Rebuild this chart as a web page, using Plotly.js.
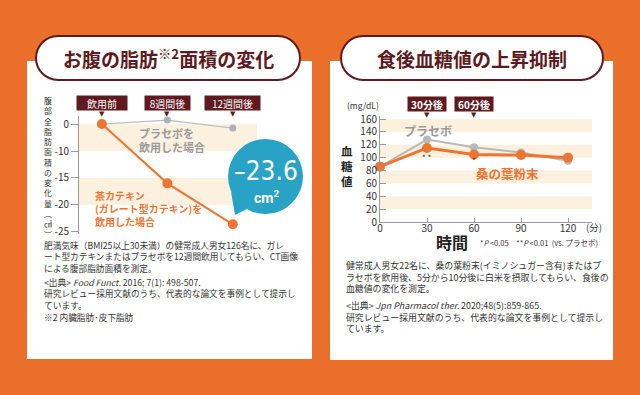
<!DOCTYPE html>
<html>
<head>
<meta charset="utf-8">
<script src="https://cdn.plot.ly/plotly-3.0.1.min.js"></script>
<style>
html,body{margin:0;padding:0;background:#EA6F2B;}
#chart{width:640px;height:395px;}
</style>
</head>
<body>
<div id="chart"></div>
<script>
// ---------- DATA ----------
const leftCategories = ['飲用前', '8週間後', '12週間後'];
const leftPlacebo = [0, 1.5, -1.5];
const leftCatechin = [0, -16.0, -23.6];
const leftTickValues = [0, -10, -15, -20, -25];
const leftTickLabels = ['0', '-10', '-15', '-20', '-25'];
const leftBands = [[0, -10], [-15, -20]];

const rightMinutes = [0, 30, 60, 90, 120];
const rightPlacebo = [86, 128, 116, 108, 95];
const rightMulberry = [86, 115, 105, 104, 100];
const rightTickValues = [0, 20, 40, 60, 80, 100, 120, 140, 160];
const rightBands = [[20, 40], [60, 80], [100, 120], [140, 160]];

// ---------- HELPERS ----------
const W = 640, H = 395;
const X = p => p / W;
const Y = p => 1 - p / H;
// the reference's left axis shows 0 then -10 one step apart, then 5 per step
const leftAxisPos = v => (v >= -10 ? v / 2 : v + 5);

const MAROON = '#5E1A20';
const ORANGE = '#EE7431';
const GREY = '#B7B9BA';
const BAND = '#FCF0DF';
const TEXT = '#333333';
const JP = '"Noto Sans CJK JP", "Noto Sans", sans-serif';

function pill(x0, y0, x1, y1) {
  const r = (y1 - y0) / 2, k = 0.5523 * r, cy = (y0 + y1) / 2;
  const P = (x, y) => X(x).toFixed(5) + ',' + Y(y).toFixed(5);
  return 'M' + P(x0 + r, y0) + ' L' + P(x1 - r, y0) +
    ' C' + P(x1 - r + k, y0) + ' ' + P(x1, cy - k) + ' ' + P(x1, cy) +
    ' C' + P(x1, cy + k) + ' ' + P(x1 - r + k, y1) + ' ' + P(x1 - r, y1) +
    ' L' + P(x0 + r, y1) +
    ' C' + P(x0 + r - k, y1) + ' ' + P(x0, cy + k) + ' ' + P(x0, cy) +
    ' C' + P(x0, cy - k) + ' ' + P(x0 + r - k, y0) + ' ' + P(x0 + r, y0) + ' Z';
}

// ---------- TRACES ----------
const traces = [
  {x: leftCategories, y: leftPlacebo.map(leftAxisPos), xaxis: 'x', yaxis: 'y',
   mode: 'lines+markers', cliponaxis: false,
   line: {color: '#B8C0C4', width: 1.3}, marker: {color: '#A9B4BA', size: 7}},
  {x: leftCategories, y: leftCatechin.map(leftAxisPos), xaxis: 'x', yaxis: 'y',
   mode: 'lines+markers', cliponaxis: false,
   line: {color: ORANGE, width: 2}, marker: {color: ORANGE, size: 10}},
  {x: rightMinutes, y: rightPlacebo, xaxis: 'x2', yaxis: 'y2',
   mode: 'lines+markers', cliponaxis: false,
   line: {color: GREY, width: 2}, marker: {color: GREY, size: 8}},
  {x: rightMinutes, y: rightMulberry, xaxis: 'x2', yaxis: 'y2',
   mode: 'lines+markers', cliponaxis: false,
   line: {color: ORANGE, width: 3}, marker: {color: ORANGE, size: 10}}
];

// ---------- SHAPES ----------
const shapes = [
  {type: 'rect', xref: 'paper', yref: 'paper', x0: X(27), x1: X(312), y0: Y(359), y1: Y(61),
   fillcolor: '#FFFFFF', line: {width: 0}, layer: 'below'},
  {type: 'rect', xref: 'paper', yref: 'paper', x0: X(330), x1: X(613), y0: Y(360), y1: Y(61),
   fillcolor: '#FFFFFF', line: {width: 0}, layer: 'below'},
  {type: 'path', xref: 'paper', yref: 'paper', path: pill(36, 36, 300, 80),
   fillcolor: '#FFFFFF', line: {color: MAROON, width: 2}, layer: 'below'},
  {type: 'path', xref: 'paper', yref: 'paper', path: pill(341, 36, 603, 80),
   fillcolor: '#FFFFFF', line: {color: MAROON, width: 2}, layer: 'below'}
];
leftBands.forEach(b => shapes.push({type: 'rect', xref: 'x domain', yref: 'y', x0: 0, x1: 1,
  y0: leftAxisPos(b[0]), y1: leftAxisPos(b[1]), fillcolor: BAND, line: {width: 0}, layer: 'below'}));
rightBands.forEach(b => shapes.push({type: 'rect', xref: 'x2 domain', yref: 'y2', x0: 0, x1: 1,
  y0: b[0], y1: b[1], fillcolor: BAND, line: {width: 0}, layer: 'below'}));
// teal callout
shapes.push({type: 'path', xref: 'paper', yref: 'paper',
  path: 'M' + X(231) + ',' + Y(192) + ' L' + X(235) + ',' + Y(215) + ' L' + X(253) + ',' + Y(206) + ' Z',
  fillcolor: '#29A3C5', line: {width: 0}});
shapes.push({type: 'circle', xref: 'paper', yref: 'paper', x0: X(228), x1: X(303), y0: Y(214), y1: Y(139),
  fillcolor: '#29A3C5', line: {width: 0}});

// ---------- ANNOTATIONS ----------
const ann = [];
function txt(t, x, y, o) {
  ann.push(Object.assign({text: t, xref: 'paper', yref: 'paper', x: X(x), y: Y(y),
    showarrow: false, xanchor: 'center', yanchor: 'middle',
    font: {family: JP, size: 9, color: TEXT}}, o || {}));
}
// titles
txt('<b>お腹の脂肪<sup>※2</sup>面積の変化</b>', 168, 58, {font: {family: JP, size: 19, color: MAROON}});
txt('<b>食後血糖値の上昇抑制</b>', 472, 58, {font: {family: JP, size: 19, color: MAROON}});

// left vertical axis title (one character per line)
const leftAxisTitle = ['腹', '部', '全', '脂', '肪', '面', '積', 'の', '変', '化', '量', '︵', '㎠', '︶'];
txt(leftAxisTitle.join('<br>'), 48, 167, {font: {family: JP, size: 7.9, color: TEXT}});

// left category boxes
const boxW = [48, 43, 53];
leftCategories.forEach((c, i) => {
  ann.push({text: c, xref: 'x', yref: 'paper', x: c, y: Y(103), showarrow: false,
    xanchor: 'center', yanchor: 'middle', width: boxW[i], height: 12, borderpad: 1,
    bgcolor: MAROON, font: {family: JP, size: 10, color: '#FFFFFF'}});
  ann.push({text: '▼', xref: 'x', yref: 'paper', x: c, y: Y(108), showarrow: false,
    xanchor: 'center', yanchor: 'top', font: {family: 'DejaVu Sans', size: 7, color: MAROON}});
});
txt('<b>プラセボを<br>飲用した場合</b>', 137, 140, {xanchor: 'left', align: 'left',
  font: {family: JP, size: 11, color: '#9A9A9A'}});
txt('<b>茶カテキン<br>(ガレート型カテキン)を<br>飲用した場合</b>', 93, 208,
  {xanchor: 'left', align: 'left', font: {family: JP, size: 10, color: ORANGE}});
// callout text
txt('–23.6', 266, 171, {font: {family: '"Liberation Sans Narrow", "DejaVu Sans Condensed", sans-serif', size: 26, color: '#FFFFFF'}});
txt('<b>cm<sup>2</sup></b>', 266, 197, {font: {family: 'Roboto, sans-serif', size: 14, color: '#FFFFFF'}});

// left body text
const leftBodyStudy = [
  '肥満気味（BMI25以上30未満）の健常成人男女126名に、ガレ',
  'ート型カテキンまたはプラセボを12週間飲用してもらい、CT画像',
  'による腹部脂肪面積を測定。'
];
const leftBodySource = [
  '&lt;出典&gt; <i>Food Funct.</i> 2016; 7(1): 498-507.',
  '研究レビュー採用文献のうち、代表的な論文を事例として提示し',
  'ています。'
];
const leftNote = '※2 内臓脂肪･皮下脂肪';
const bodyOpt = s => ({xanchor: 'left', align: 'left', font: {family: JP, size: s, color: TEXT}});
txt(leftBodyStudy.join('<br>'), 42, 256.7, bodyOpt(8.7));
txt(leftBodySource.join('<br>'), 42, 293.6, bodyOpt(8.7));
txt(leftNote, 42, 317.3, bodyOpt(8.7));

// right annotations
txt('(mg/dL)', 363, 105, {font: {family: JP, size: 8.5, color: TEXT}});
[['30分後', 30], ['60分後', 60]].forEach(b => {
  ann.push({text: '<b>' + b[0] + '</b>', xref: 'x2', yref: 'paper', x: b[1], y: Y(104), showarrow: false,
    xanchor: 'center', yanchor: 'middle', width: 36, height: 12, borderpad: 1,
    bgcolor: MAROON, font: {family: JP, size: 10, color: '#FFFFFF'}});
  ann.push({text: '▼', xref: 'x2', yref: 'paper', x: b[1], y: Y(109), showarrow: false,
    xanchor: 'center', yanchor: 'top', font: {family: 'DejaVu Sans', size: 7, color: MAROON}});
});
txt('<b>血<br>糖<br>値</b>', 347, 166, {font: {family: JP, size: 11.5, color: '#222222'}});
txt('<b>プラセボ</b>', 428, 130, {font: {family: JP, size: 12, color: '#9A9A9A'}});
txt('<b>桑の葉粉末</b>', 507, 173, {font: {family: JP, size: 12.5, color: ORANGE}});
ann.push({text: '* *', xref: 'x2', yref: 'paper', x: 30, y: Y(157), showarrow: false,
  font: {family: JP, size: 8, color: TEXT}});
ann.push({text: '*', xref: 'x2', yref: 'paper', x: 60, y: Y(161), showarrow: false,
  font: {family: JP, size: 8, color: TEXT}});
txt('(分)', 594, 227, {font: {family: JP, size: 9.5, color: TEXT}});
txt('<b>時間</b>', 452, 242, {font: {family: JP, size: 16, color: '#222222'}});
txt('*<i>P</i> &lt;0.05　**<i>P</i> &lt;0.01  (vs. プラセボ)', 478, 243,
  {xanchor: 'left', font: {family: JP, size: 7.5, color: TEXT}});

const rightBodyStudy = [
  '健常成人男女22名に、桑の葉粉末(イミノシュガー含有)またはプ',
  'ラセボを飲用後、5分から10分後に白米を摂取してもらい、食後の',
  '血糖値の変化を測定。'
];
const rightBodySource = [
  '&lt;出典&gt; <i>Jpn Pharmacol ther.</i> 2020;48(5):859-865.',
  '研究レビュー採用文献のうち、代表的な論文を事例として提示し',
  'ています。'
];
txt(rightBodyStudy.join('<br>'), 344, 276.5, bodyOpt(8.9));
txt(rightBodySource.join('<br>'), 344, 316.5, bodyOpt(8.9));

// ---------- LAYOUT ----------
const layout = {
  width: 640, height: 395,
  margin: {l: 0, r: 0, t: 0, b: 0},
  paper_bgcolor: '#EA6F2B',
  plot_bgcolor: 'rgba(0,0,0,0)',
  showlegend: false,
  font: {family: JP, size: 10, color: TEXT},
  xaxis: {domain: [X(79), X(257)], anchor: 'y', type: 'category', range: [-0.35, 2.37],
    showline: false, showticklabels: false, ticks: '', showgrid: false, zeroline: false},
  yaxis: {domain: [Y(234), Y(116)], anchor: 'x', range: [-20.4, 1.5],
    tickvals: leftTickValues.map(leftAxisPos), ticktext: leftTickLabels,
    showline: true, linecolor: '#9A9A9A', linewidth: 1, ticks: 'outside', ticklen: 7,
    tickcolor: '#9A9A9A', showgrid: false, zeroline: false, tickfont: {size: 10, color: TEXT}},
  xaxis2: {domain: [X(380), X(592)], anchor: 'y2', range: [0, 135.3],
    tickvals: rightMinutes, showline: true, linecolor: '#9A9A9A', ticks: 'inside', ticklen: 4,
    ticklabelstandoff: -3,
    tickcolor: '#9A9A9A', showgrid: false, zeroline: false, tickfont: {size: 10, color: TEXT}},
  yaxis2: {domain: [Y(222), Y(115.8)], anchor: 'x2', range: [0, 165],
    tickvals: rightTickValues, showline: true, linecolor: '#9A9A9A', ticks: 'inside', ticklen: 6,
    tickcolor: '#9A9A9A', showgrid: false, zeroline: false, tickfont: {size: 10, color: TEXT}},
  shapes: shapes,
  annotations: ann
};

Plotly.newPlot('chart', traces, layout, {staticPlot: true, displayModeBar: false});
</script>
</body>
</html>
